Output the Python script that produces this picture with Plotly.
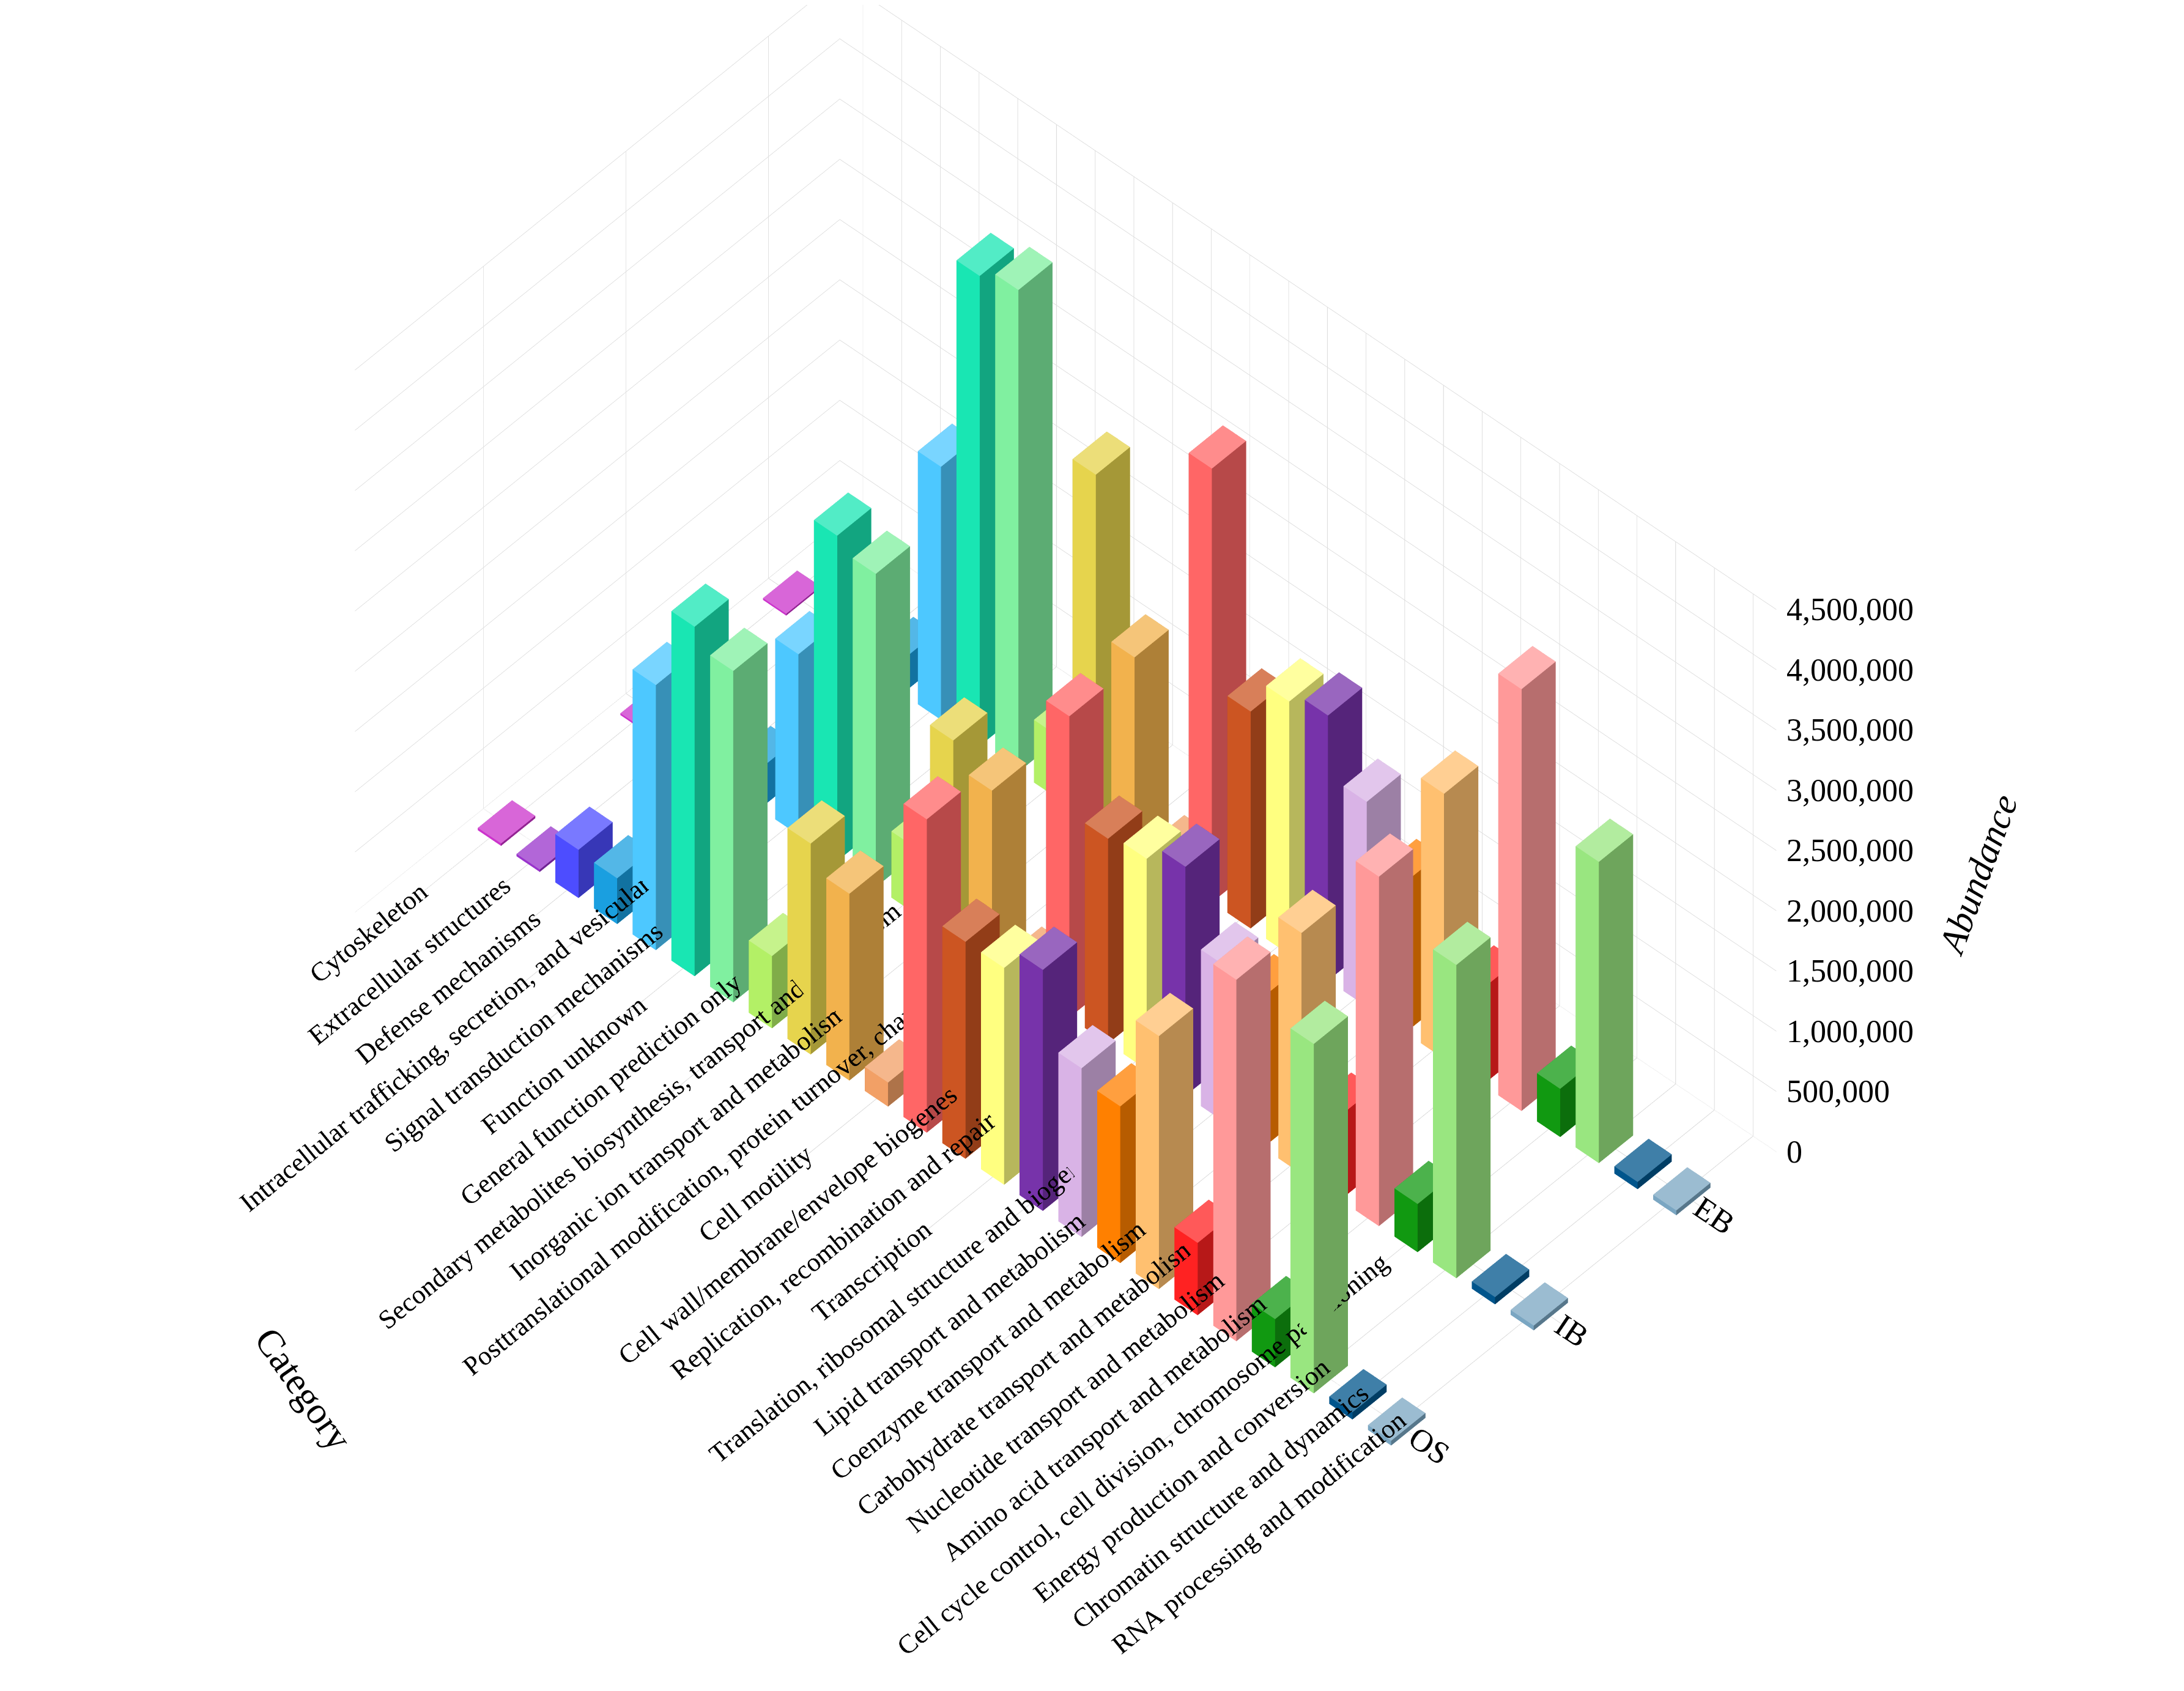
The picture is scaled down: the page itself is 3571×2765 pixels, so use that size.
import plotly.graph_objects as go

categories = ["Cytoskeleton","Extracellular structures","Defense mechanisms",
 "Intracellular trafficking, secretion, and vesicular transport","Signal transduction mechanisms",
 "Function unknown","General function prediction only",
 "Secondary metabolites biosynthesis, transport and catabolism","Inorganic ion transport and metabolism",
 "Posttranslational modification, protein turnover, chaperones","Cell motility",
 "Cell wall/membrane/envelope biogenesis","Replication, recombination and repair","Transcription",
 "Translation, ribosomal structure and biogenesis","Lipid transport and metabolism",
 "Coenzyme transport and metabolism","Carbohydrate transport and metabolism",
 "Nucleotide transport and metabolism","Amino acid transport and metabolism",
 "Cell cycle control, cell division, chromosome partitioning","Energy production and conversion",
 "Chromatin structure and dynamics","RNA processing and modification"]
groups = ["OS","IB","EB"]
OS = [20e3,20e3,400e3,380e3,2200e3,2900e3,2750e3,600e3,1750e3,1550e3,200e3,2600e3,1800e3,1800e3,
      2000e3,1400e3,1300e3,2100e3,600e3,3000e3,400e3,2900e3,60e3,40e3]
IB = [15e3,15e3,350e3,330e3,1500e3,2700e3,2600e3,550e3,1650e3,1450e3,180e3,2500e3,1700e3,1750e3,
      1900e3,1300e3,1250e3,2000e3,700e3,2900e3,400e3,2600e3,60e3,40e3]
EB = [15e3,15e3,300e3,280e3,2100e3,3900e3,4000e3,520e3,2900e3,1600e3,150e3,3600e3,1800e3,2100e3,
      2200e3,1700e3,1250e3,2200e3,800e3,3500e3,400e3,2500e3,60e3,40e3]
colors = ["#cc33cc","#9933cc","#4d4dff","#1a9fe0","#4dc8ff","#19e6b3","#80f0a0","#b3f066","#e6d44d",
          "#f2b24d","#f2a066","#ff6666","#cc5522","#ffff80","#7733aa","#d9b3e6","#ff8000","#ffc070",
          "#ff2222","#ff9999","#119911","#99e680","#00558c","#7aa6c2"]
zticks = [0,500000,1000000,1500000,2000000,2500000,3000000,3500000,4000000,4500000]

def shade(hexc, f):
    r, g, b = int(hexc[1:3],16), int(hexc[3:5],16), int(hexc[5:7],16)
    if f <= 1:
        r, g, b = r*f, g*f, b*f
    else:
        t = f-1; r, g, b = r+(255-r)*t, g+(255-g)*t, b+(255-b)*t
    return "rgb(%d,%d,%d)" % (r, g, b)

values = [OS, IB, EB]
fig = go.Figure()
wx, wy = 0.3, 0.12
faces = [(0,1,2),(0,2,3),(4,5,6),(4,6,7),(0,1,5),(0,5,4),(1,2,6),(1,6,5),(2,3,7),(2,7,6),(3,0,4),(3,4,7)]
facef = [1,1,1.25,1.25,1.0,1.0,0.72,0.72,0.8,0.8,0.9,0.9]
for i, cat in enumerate(categories):
    xs, ys, zs, I, J, K, fc = [], [], [], [], [], [], []
    for g in range(3):
        h = values[g][i]
        b = len(xs)
        for (dx, dy, z) in [(-wx,-wy,0),(wx,-wy,0),(wx,wy,0),(-wx,wy,0),(-wx,-wy,h),(wx,-wy,h),(wx,wy,h),(-wx,wy,h)]:
            xs.append(i+dx); ys.append(g+dy); zs.append(z)
        for (a, c, d), f in zip(faces, facef):
            I.append(b+a); J.append(b+c); K.append(b+d); fc.append(shade(colors[i], f))
    fig.add_trace(go.Mesh3d(x=xs, y=ys, z=zs, i=I, j=J, k=K, facecolor=fc, flatshading=True,
                            lighting=dict(ambient=1.0, diffuse=0, specular=0, fresnel=0, roughness=1),
                            name=cat, showscale=False, hoverinfo="name"))

annots = [dict(x=len(categories)-0.4, y=2.5, z=v, text="{:,}".format(v), showarrow=False,
               xanchor="left", xshift=15, font=dict(family="Liberation Serif", size=52, color="black"))
          for v in zticks]
annots.append(dict(x=len(categories)-0.4, y=2.5, z=2.3e6, text="<i>Abundance</i>", showarrow=False,
                   textangle=-70, xshift=330, font=dict(family="Liberation Serif", size=60, color="black")))

font = dict(family="Liberation Serif", size=22, color="black")
fig.update_layout(
    width=3571, height=2765, paper_bgcolor="white", showlegend=False,
    margin=dict(l=0, r=0, t=0, b=0),
    scene=dict(
        xaxis=dict(title=dict(text=""),
                   tickvals=list(range(len(categories))), ticktext=categories, tickfont=font,
                   range=[-0.6, len(categories)-0.4], showbackground=False, gridcolor="#dddddd"),
        yaxis=dict(title=dict(text=""), tickvals=[0,1,2], ticktext=groups, tickfont=dict(family="Liberation Serif", size=24, color="black"),
                   range=[-0.9, 2.5], showbackground=False, gridcolor="#dddddd"),
        zaxis=dict(title=dict(text=""), range=[0, 4.5e6], tickvals=zticks, showticklabels=False,
                   showbackground=False, gridcolor="#dddddd"),
        aspectmode="manual", aspectratio=dict(x=1.5, y=0.85, z=0.95),
        camera=dict(eye=dict(x=1.42, y=-1.5, z=2.1), center=dict(x=0.05, y=0, z=-0.12),
                    projection=dict(type="orthographic")),
        annotations=annots,
    ),
    annotations=[dict(text="Category", xref="paper", yref="paper", x=0.11, y=0.14, showarrow=False,
                      textangle=55, font=dict(family="Liberation Serif", size=62, color="black"))],
)
fig.write_html("out.html")
